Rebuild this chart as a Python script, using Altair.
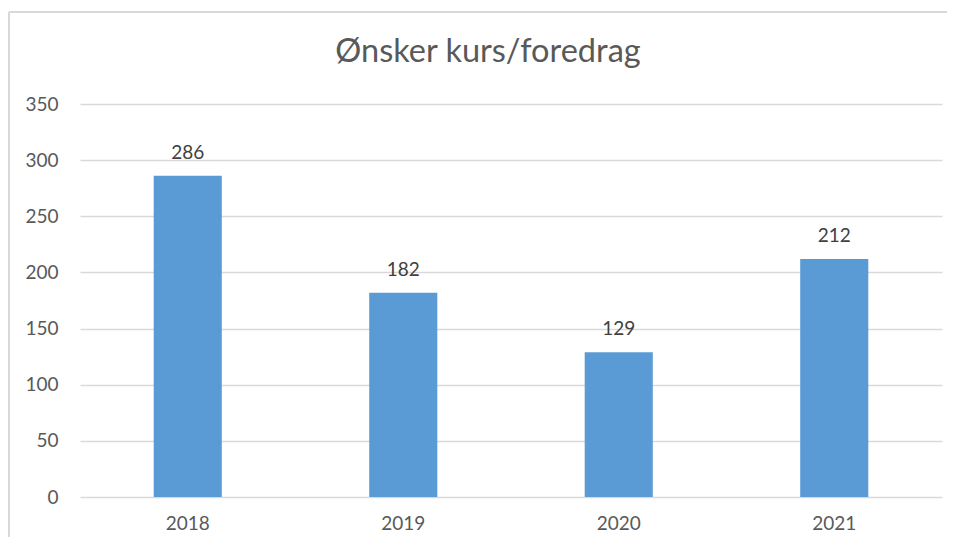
import altair as alt
import pandas as pd

years = ["2018", "2019", "2020", "2021"]
values = [286, 182, 129, 212]
y_ticks = [0, 50, 100, 150, 200, 250, 300, 350]

df = pd.DataFrame({"year": years, "value": values})

FONT = "Lato"
GRAY = "#595959"

base = alt.Chart(df)

bars = base.mark_bar(color="#5b9bd5").encode(
    x=alt.X("year:N", sort=years,
            scale=alt.Scale(paddingInner=0.684, paddingOuter=0.342),
            axis=alt.Axis(title=None, labelAngle=0, ticks=False, domain=False,
                          labelFont=FONT, labelFontSize=19, labelColor=GRAY,
                          labelPadding=17, grid=False)),
    y=alt.Y("value:Q", scale=alt.Scale(domain=[0, 350], nice=False),
            axis=alt.Axis(title=None, values=y_ticks, ticks=False, domain=False,
                          labelFont=FONT, labelFontSize=19, labelColor=GRAY,
                          labelPadding=22, gridColor="#d9d9d9", gridWidth=1.3)),
)

labels = base.mark_text(baseline="bottom", dy=-13, font=FONT, fontSize=19,
                        color="#404040").encode(
    x=alt.X("year:N", sort=years),
    y=alt.Y("value:Q"),
    text=alt.Text("value:Q"),
)

border_left = base.mark_rule(color="#d9d9d9", strokeWidth=2).encode(
    x=alt.value(-71), y=alt.value(-92), y2=alt.value(450))
border_top = base.mark_rule(color="#d9d9d9", strokeWidth=2).encode(
    x=alt.value(-71), x2=alt.value(867), y=alt.value(-92))

chart = alt.layer(border_left, border_top, bars, labels).properties(
    width=862, height=393,
    autosize=alt.AutoSizeParams(type="none"),
    padding={"left": 72, "top": 96, "right": 5, "bottom": 40},
    title=alt.TitleParams("Ønsker kurs/foredrag", font=FONT, fontSize=32.5,
                          fontWeight="normal", color=GRAY, anchor="middle",
                          frame="group", dx=-23, offset=-57),
).configure_view(stroke=None)

chart.save("out.html", embed_options={"renderer": "svg", "actions": False})
